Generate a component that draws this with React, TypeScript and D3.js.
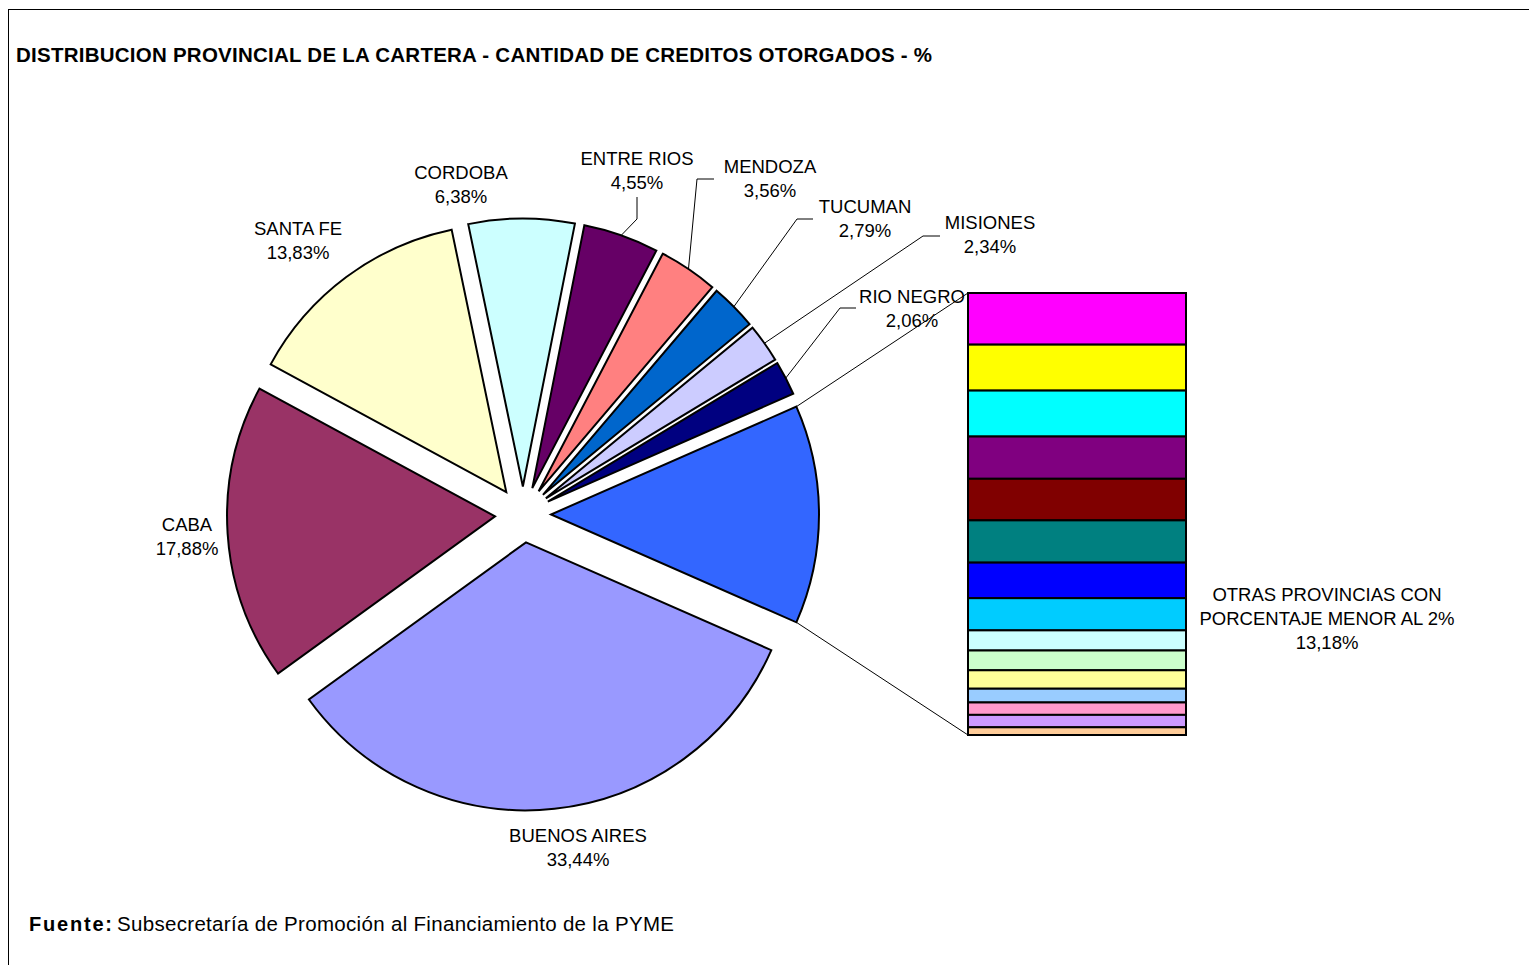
import React from "react";
import * as d3 from "d3";

// slices in the order Excel draws them (the "other" slice sits on the right)
const provinces = [
  "OTRAS PROVINCIAS CON\nPORCENTAJE MENOR AL 2%",
  "BUENOS AIRES",
  "CABA",
  "SANTA FE",
  "CORDOBA",
  "ENTRE RIOS",
  "MENDOZA",
  "TUCUMAN",
  "MISIONES",
  "RIO NEGRO",
];
const shares = [13.18, 33.44, 17.88, 13.83, 6.38, 4.55, 3.56, 2.79, 2.34, 2.06];
const sliceColors = [
  "#3366FF", "#9999FF", "#993366", "#FFFFCC", "#CCFFFF",
  "#660066", "#FF8080", "#0066CC", "#CCCCFF", "#000080",
];

// breakdown of the "other" slice, top to bottom
const otherShares = [1.54, 1.37, 1.37, 1.26, 1.24, 1.26, 1.06, 0.96, 0.6, 0.59, 0.55, 0.41, 0.37, 0.37, 0.23];
const otherColors = [
  "#FF00FF", "#FFFF00", "#00FFFF", "#800080", "#800000", "#008080", "#0000FF",
  "#00CCFF", "#CCFFFF", "#CCFFCC", "#FFFF99", "#99CCFF", "#FF99CC", "#CC99FF", "#FFCC99",
];

const title = "DISTRIBUCION PROVINCIAL DE LA CARTERA - CANTIDAD DE CREDITOS OTORGADOS - %";
const sourceLabel = "Fuente:";
const sourceText = "Subsecretaría de Promoción al Financiamiento de la PYME";

// label placement (first baseline) and leader elbows
const labelLayout: { x: number; y: number; leader?: [number, number][] }[] = [
  { x: 1327, y: 601 },
  { x: 578, y: 842 },
  { x: 187, y: 531 },
  { x: 298, y: 235 },
  { x: 461, y: 179 },
  { x: 637, y: 165, leader: [[637, 219], [637, 197]] },
  { x: 770, y: 173, leader: [[697, 179], [714, 179]] },
  { x: 865, y: 213, leader: [[797, 219], [813, 219]] },
  { x: 990, y: 229, leader: [[923, 236], [940, 236]] },
  { x: 912, y: 303, leader: [[840, 308], [856, 308]] },
];

const W = 1529;
const H = 965;
const cx = 523;
const cy = 514.5;
const radius = 268;
const explode = 28;
const lineH = 24;
const font = "'Liberation Sans', Arial, sans-serif";

const pct = (v: number) => d3.format(".2f")(v).replace(".", ",") + "%";

export default function App() {
  const otherAngle = (shares[0] / 100) * Math.PI * 2;
  const start = Math.PI / 2 - otherAngle / 2;
  const pie = d3.pie<number>().sort(null).startAngle(start).endAngle(start + Math.PI * 2);
  const arcs = pie(shares);
  const arc = d3.arc<d3.PieArcDatum<number>>().innerRadius(0).outerRadius(radius);

  const offset = (a: d3.PieArcDatum<number>) => {
    const m = (a.startAngle + a.endAngle) / 2;
    return [Math.sin(m) * explode, -Math.cos(m) * explode];
  };
  const outerPoint = (a: d3.PieArcDatum<number>, ang: number) => {
    const [ox, oy] = offset(a);
    return [cx + ox + Math.sin(ang) * radius, cy + oy - Math.cos(ang) * radius];
  };

  // stacked bar for the "other" group
  const barX0 = 968;
  const barX1 = 1186;
  const y = d3.scaleLinear().domain([0, d3.sum(otherShares)]).range([293, 735]);
  const cum = d3.cumsum(otherShares);

  const otherArc = arcs[0];
  const topCorner = outerPoint(otherArc, otherArc.startAngle);
  const botCorner = outerPoint(otherArc, otherArc.endAngle);

  return (
    <svg
      width={W}
      height={H}
      style={{ position: "absolute", left: 0, top: 0, background: "#fff" }}
      fontFamily={font}
    >
      <rect x={8.5} y={9.5} width={W + 10} height={H + 10} fill="#fff" stroke="#000" strokeWidth={1} />

      <text x={16} y={62} fontSize={20.5} fontWeight="bold" textLength={916} lengthAdjust="spacing">
        {title}
      </text>

      {/* connector lines bar <-> slice */}
      <line x1={topCorner[0]} y1={topCorner[1]} x2={barX0} y2={y(0)} stroke="#000" strokeWidth={1} />
      <line x1={botCorner[0]} y1={botCorner[1]} x2={barX0} y2={y(cum[cum.length - 1])} stroke="#000" strokeWidth={1} />

      {/* pie slices */}
      {arcs.map((a, i) => {
        const [ox, oy] = offset(a);
        return (
          <path
            key={i}
            d={arc(a) || ""}
            transform={`translate(${cx + ox},${cy + oy})`}
            fill={sliceColors[i]}
            stroke="#000"
            strokeWidth={2}
            strokeLinejoin="miter"
          />
        );
      })}

      {/* bar segments */}
      {otherShares.map((v, i) => (
        <rect
          key={i}
          x={barX0}
          y={y(cum[i] - v)}
          width={barX1 - barX0}
          height={y(cum[i]) - y(cum[i] - v)}
          fill={otherColors[i]}
          stroke="#000"
          strokeWidth={2}
        />
      ))}

      {/* leader lines */}
      {arcs.map((a, i) => {
        const lay = labelLayout[i];
        if (!lay.leader) return null;
        const p = outerPoint(a, (a.startAngle + a.endAngle) / 2);
        const pts = [p, ...lay.leader];
        return (
          <polyline
            key={i}
            points={pts.map((q) => q.join(",")).join(" ")}
            fill="none"
            stroke="#000"
            strokeWidth={1}
          />
        );
      })}

      {/* data labels */}
      {provinces.map((name, i) => {
        const lay = labelLayout[i];
        const lines = [...name.split("\n"), pct(shares[i])];
        return (
          <text key={i} x={lay.x} y={lay.y} fontSize={18.5} textAnchor="middle" fill="#000">
            {lines.map((l, j) => (
              <tspan key={j} x={lay.x} y={lay.y + j * lineH}>
                {l}
              </tspan>
            ))}
          </text>
        );
      })}

      <text x={29} y={931} fontSize={20} fontWeight="bold" textLength={83} lengthAdjust="spacing">
        {sourceLabel}
      </text>
      <text x={117} y={931} fontSize={20.5} textLength={557} lengthAdjust="spacing">
        {sourceText}
      </text>
    </svg>
  );
}
